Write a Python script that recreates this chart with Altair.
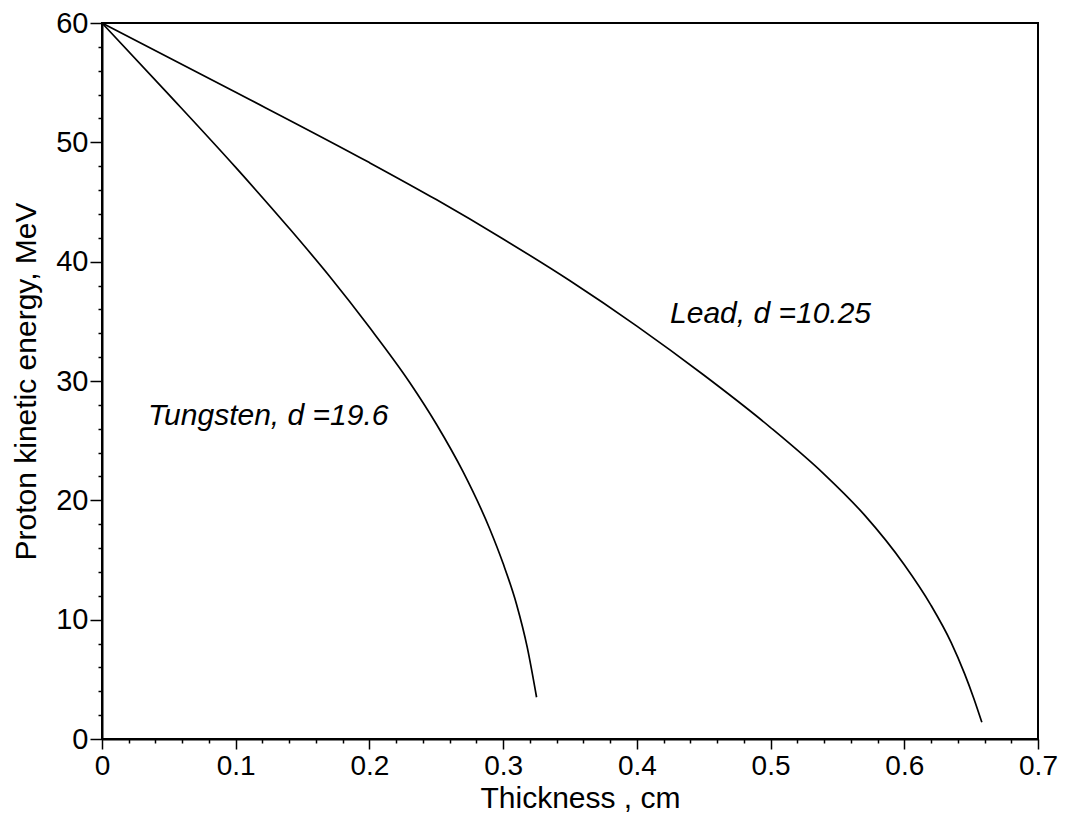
import altair as alt
import pandas as pd

# Tungsten curve (thickness cm, kinetic energy MeV)
tungsten_x = [0.0, 0.05, 0.10, 0.14, 0.17, 0.20, 0.23, 0.25, 0.27, 0.29,
              0.30, 0.31, 0.318, 0.325]
tungsten_y = [60.0, 54.0, 47.9, 42.8, 38.8, 34.5, 29.9, 26.4, 22.4, 17.6,
              14.7, 11.3, 7.7, 3.5]

# Lead curve
lead_x = [0.0, 0.10, 0.20, 0.25, 0.30, 0.35, 0.40, 0.45, 0.50, 0.54,
          0.57, 0.60, 0.62, 0.635, 0.645, 0.652, 0.658]
lead_y = [60.0, 54.2, 48.3, 45.2, 41.9, 38.4, 34.6, 30.5, 26.1, 22.2,
          18.8, 14.6, 11.2, 8.1, 5.5, 3.4, 1.4]

labels = ["Tungsten, d =19.6", "Lead, d =10.25"]
label_x = [0.0344, 0.4248]
label_y = [26.3, 34.85]

x_ticks = [round(i * 0.02, 2) for i in range(36)]
y_ticks = list(range(0, 61, 2))

rows = []
for xv, yv in zip(tungsten_x, tungsten_y):
    rows.append({"material": "Tungsten", "x": xv, "y": yv})
for xv, yv in zip(lead_x, lead_y):
    rows.append({"material": "Lead", "x": xv, "y": yv})
df = pd.DataFrame(rows)
lab = pd.DataFrame({"text": labels, "x": label_x, "y": label_y})

FONT = "Liberation Sans"

xscale = alt.Scale(domain=[0, 0.7], nice=False, zero=False)
yscale = alt.Scale(domain=[0, 60], nice=False, zero=False)

xaxis = alt.Axis(
    values=x_ticks,
    labelExpr="abs(datum.value*10 - round(datum.value*10)) < 0.001 ? (datum.value == 0 ? '0' : format(datum.value, '.1f')) : ''",
    tickSize={"condition": {"test": "abs(datum.value*10 - round(datum.value*10)) < 0.001", "value": 10}, "value": 4},
    title="Thickness , cm",
    titleFontSize=30, titleFont=FONT, titleFontWeight="normal", titleColor="black",
    titleBaseline="alphabetic", titleY=68, titleX=478,
    labelFontSize=28, labelFont=FONT, labelColor="black", labelPadding=3,
    labelFlush=False, labelOverlap=False,
    domainColor="black", domainWidth=2, tickColor="black", tickWidth=1.5,
    grid=False,
)
yaxis = alt.Axis(
    values=y_ticks,
    labelExpr="datum.value % 10 === 0 ? format(datum.value, 'd') : ''",
    tickSize={"condition": {"test": "datum.value % 10 === 0", "value": 12}, "value": 4},
    title="Proton kinetic energy, MeV",
    titleFontSize=30, titleFont=FONT, titleFontWeight="normal", titleColor="black",
    titleAngle=-90, titleBaseline="alphabetic", titleX=-67,
    labelFontSize=29, labelFont=FONT, labelColor="black", labelPadding=2,
    labelFlush=False, labelOverlap=False,
    domainColor="black", domainWidth=2, tickColor="black", tickWidth=1.5,
    grid=False,
)

lines = alt.Chart(df).mark_line(color="black", strokeWidth=1.7, interpolate="monotone").encode(
    x=alt.X("x:Q", scale=xscale, axis=xaxis),
    y=alt.Y("y:Q", scale=yscale, axis=yaxis),
    detail="material:N",
)

texts = alt.Chart(lab).mark_text(
    align="left", baseline="alphabetic", font=FONT, fontSize=30,
    fontStyle="italic", color="black",
).encode(
    x=alt.X("x:Q", scale=xscale, axis=xaxis),
    y=alt.Y("y:Q", scale=yscale, axis=yaxis),
    text="text:N",
)

chart = alt.layer(lines, texts).properties(
    width=936, height=716,
    background="white",
    autosize=alt.AutoSizeParams(type="none"),
    padding={"left": 94, "top": 15, "right": 20, "bottom": 74},
).configure_view(
    stroke="black", strokeWidth=2
).configure_axis(
    labelOverlap=False
)

chart.save("out.html", embed_options={"renderer": "svg", "actions": False})
